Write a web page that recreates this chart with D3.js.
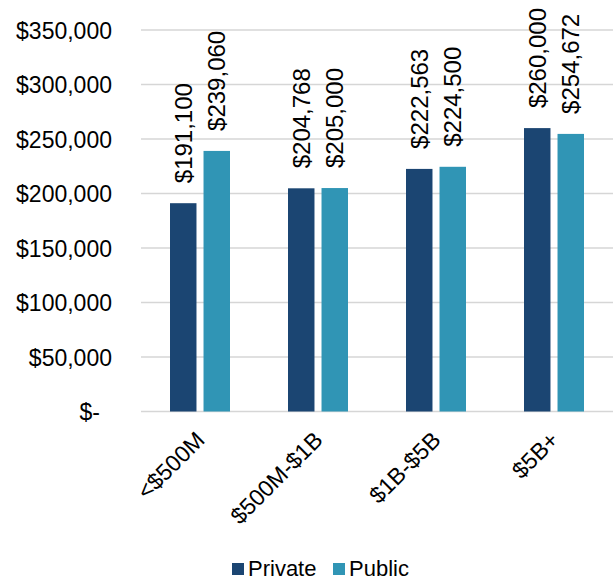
<!DOCTYPE html>
<html>
<head>
<meta charset="utf-8">
<script src="https://cdn.jsdelivr.net/npm/d3@7"></script>
<style>
  html, body { margin: 0; padding: 0; background: #ffffff; }
  svg text { font-family: "Liberation Sans", Arial, sans-serif; fill: #000; }
</style>
</head>
<body>
<svg id="chart" width="615" height="581"></svg>
<script>
// Revenue-band categories and the two ownership series
const categories = ["<$500M", "$500M-$1B", "$1B-$5B", "$5B+"];
const seriesNames = ["Private", "Public"];
const privateValues = [191100, 204768, 222563, 260000];
const publicValues = [239060, 205000, 224500, 254672];
const yTicks = [0, 50000, 100000, 150000, 200000, 250000, 300000, 350000];
const seriesColors = ["#1b4572", "#3095b5"];

const rows = categories.map((c, i) => ({
  category: c,
  values: [
    { series: seriesNames[0], value: privateValues[i] },
    { series: seriesNames[1], value: publicValues[i] }
  ]
}));

const svg = d3.select("#chart");
const plot = { left: 141, right: 613, top: 30, bottom: 411.5 };

const y = d3.scaleLinear().domain([0, 350000]).range([plot.bottom, plot.top]);
const x0 = d3.scaleBand().domain(categories).range([plot.left, plot.right]).padding(0);
const x1 = d3.scaleBand().domain(seriesNames)
  .range([x0.bandwidth() / 2 - 30, x0.bandwidth() / 2 + 30]).paddingInner(0.21).paddingOuter(0);
const color = d3.scaleOrdinal().domain(seriesNames).range(seriesColors);

const money = d3.format("$,");

// Horizontal gridlines
svg.append("g")
  .selectAll("line")
  .data(yTicks)
  .join("line")
  .attr("x1", plot.left)
  .attr("x2", plot.right)
  .attr("y1", d => y(d))
  .attr("y2", d => y(d))
  .attr("stroke", "#d6d6d6")
  .attr("stroke-width", 1.5);

// Y axis labels (accounting style, zero shown as "$-")
const yAxis = d3.axisLeft(y).tickValues(yTicks).tickSize(0).tickPadding(0)
  .tickFormat(d => d === 0 ? "$-" : money(d));
const yg = svg.append("g").attr("transform", `translate(${plot.left - 29},0)`).call(yAxis);
yg.select(".domain").remove();
yg.selectAll("text")
  .attr("font-size", 23)
  .attr("dy", "0.35em")
  .attr("x", d => d === 0 ? -12 : 0);

// Bars
const groups = svg.append("g")
  .selectAll("g")
  .data(rows)
  .join("g")
  .attr("transform", d => `translate(${x0(d.category)},0)`);

groups.selectAll("rect")
  .data(d => d.values)
  .join("rect")
  .attr("x", d => x1(d.series))
  .attr("width", x1.bandwidth())
  .attr("y", d => y(d.value))
  .attr("height", d => y(0) - y(d.value))
  .attr("fill", d => color(d.series));

// Rotated value labels above each bar
groups.selectAll("text")
  .data(d => d.values)
  .join("text")
  .attr("transform", d => `translate(${x1(d.series) + x1.bandwidth() / 2},${y(d.value) - 20}) rotate(-90)`)
  .attr("dy", "0.35em")
  .attr("text-anchor", "start")
  .attr("font-size", 24)
  .text(d => money(d.value));

// Category labels, rotated 45 degrees
const xAxis = d3.axisBottom(x0).tickSize(0).tickPadding(0);
const xg = svg.append("g").attr("transform", `translate(0,${plot.bottom})`).call(xAxis);
xg.select(".domain").remove();
xg.selectAll("text")
  .attr("font-size", 23)
  .attr("text-anchor", "end")
  .attr("y", 0)
  .attr("dy", 0)
  .attr("transform", "translate(6,30) rotate(-45)");

// Legend
const legend = svg.append("g").attr("transform", "translate(232,568)");
const legendX = [0, 101];
seriesNames.forEach((s, i) => {
  const g = legend.append("g").attr("transform", `translate(${legendX[i]},0)`);
  g.append("rect").attr("x", 0).attr("y", -5).attr("width", 12).attr("height", 12).attr("fill", color(s));
  g.append("text").attr("x", 16).attr("y", 0).attr("dy", "0.35em").attr("font-size", 22).text(s);
});
</script>
</body>
</html>
